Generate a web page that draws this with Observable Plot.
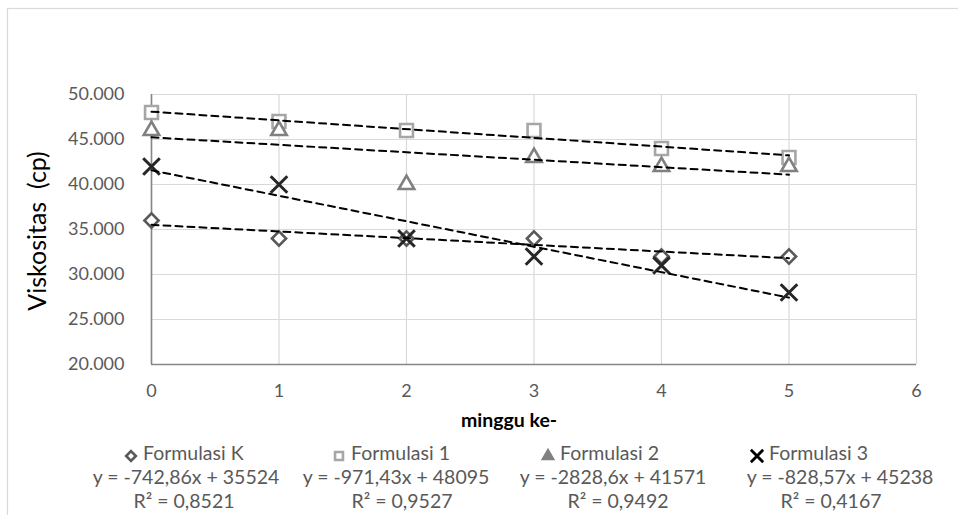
<!DOCTYPE html>
<html>
<head>
<meta charset="utf-8">
<script src="https://cdn.jsdelivr.net/npm/d3@7"></script>
<script src="https://cdn.jsdelivr.net/npm/@observablehq/plot@0.6"></script>
<style>
  html, body { margin: 0; padding: 0; background: #fff; }
</style>
</head>
<body>
<div id="chart"></div>
<script>
// ---- data ----
const weeks = [0, 1, 2, 3, 4, 5];
const seriesNames = ["Formulasi K", "Formulasi 1", "Formulasi 2", "Formulasi 3"];
const formK = [36000, 34000, 34000, 34000, 32000, 32000];
const form1 = [48000, 47000, 46000, 46000, 44000, 43000];
const form2 = [46000, 46000, 40000, 43000, 42000, 42000];
const form3 = [42000, 40000, 34000, 32000, 31000, 28000];
const equations = ["y = -742,86x + 35524", "y = -971,43x + 48095", "y = -2828,6x + 41571", "y = -828,57x + 45238"];
const rSquared = ["R² = 0,8521", "R² = 0,9527", "R² = 0,9492", "R² = 0,4167"];
const xTicks = [0, 1, 2, 3, 4, 5, 6];
const xTickLabels = ["0", "1", "2", "3", "4", "5", "6"];
const yTicks = [20000, 25000, 30000, 35000, 40000, 45000, 50000];
const yTickLabels = ["20.000", "25.000", "30.000", "35.000", "40.000", "45.000", "50.000"];
const xTitle = "minggu ke-";
const yTitle = "Viskositas  (cp)";

// ---- table ----
const values = [formK, form1, form2, form3];
const table = seriesNames.flatMap((name, i) => weeks.map((w, j) => ({series: name, week: w, value: values[i][j]})));

const styles = {
  "Formulasi K": {symbol: "diamond2", stroke: "#595959", r: 6.4, sw: 2.6},
  "Formulasi 1": {symbol: "square2", stroke: "#a6a6a6", r: 8.2, sw: 2.6},
  "Formulasi 2": {symbol: "triangle2", stroke: "#808080", r: 7.4, sw: 2.6},
  "Formulasi 3": {symbol: "times", stroke: "#262626", r: 7.6, sw: 3}
};

const font = "Lato, 'Open Sans', sans-serif";

const dotMarks = seriesNames.map(name => Plot.dot(table.filter(d => d.series === name), {
  x: "week", y: "value", symbol: () => styles[name].symbol,
  r: styles[name].r, stroke: styles[name].stroke, strokeWidth: styles[name].sw, fill: "white"
}));

const chart = Plot.plot({
  width: 958,
  height: 515,
  marginLeft: 151,
  marginRight: 42,
  marginTop: 94,
  marginBottom: 151,
  style: {fontFamily: font, fontSize: "18px", color: "#595959", background: "white", overflow: "visible"},
  symbol: {type: "identity"},
  x: {domain: [0, 6], label: null},
  y: {domain: [20000, 50000], label: null},
  marks: [
    Plot.gridX(xTicks, {stroke: "#d9d9d9", strokeOpacity: 1, strokeWidth: 1.2}),
    Plot.gridY(yTicks, {stroke: "#d9d9d9", strokeOpacity: 1, strokeWidth: 1.2}),
    Plot.ruleX([0], {stroke: "#868686", strokeWidth: 1.6}),
    Plot.ruleY([20000], {stroke: "#868686", strokeWidth: 1.6}),
    Plot.axisX(xTicks, {tickSize: 0, tickPadding: 20, label: null, fill: "#595959",
      tickFormat: d => xTickLabels[xTicks.indexOf(d)]}),
    Plot.axisY(yTicks, {tickSize: 0, tickPadding: 27, label: null, fill: "#595959",
      tickFormat: d => yTickLabels[yTicks.indexOf(d)]}),
    ...dotMarks,
    Plot.linearRegressionY(table, {x: "week", y: "value", z: "series", ci: 0,
      stroke: "black", strokeWidth: 2, strokeDasharray: "7,5"}),
    Plot.text([xTitle], {frameAnchor: "bottom", dy: 62, dx: -25, fontWeight: "bold", fill: "black", fontSize: 19.5})
  ]
});

document.getElementById("chart").appendChild(chart);

const svg = d3.select(chart);
// outer chart-area border
svg.insert("rect", ":first-child")
  .attr("x", 7.5).attr("y", 8.5).attr("width", 1000).attr("height", 600)
  .attr("fill", "none").attr("stroke", "#d9d9d9").attr("stroke-width", 1.2);
svg.insert("rect", ":first-child")
  .attr("x", 0).attr("y", 0).attr("width", 958).attr("height", 515).attr("fill", "white");

// y title
svg.append("text")
  .attr("transform", "translate(40,231) rotate(-90)")
  .attr("text-anchor", "middle").attr("dominant-baseline", "middle")
  .attr("font-family", font).attr("font-size", 25).attr("fill", "black")
  .style("white-space", "pre")
  .text(yTitle);

// legend
const symX = [131, 339, 548, 757];
const nameX = [143, 351, 560, 769];
const eqX = [186, 396, 613, 840];
const r2X = [184, 402, 618, 831];
const legendSymbols = {diamond2: d3.symbolDiamond2, square2: d3.symbolSquare2, triangle2: d3.symbolTriangle2, times: d3.symbolTimes};
const legendFill = {diamond2: "white", square2: "white", triangle2: "#808080", times: "none"};
const legendSize = {diamond2: 60, square2: 80, triangle2: 70, times: 100};
seriesNames.forEach((name, i) => {
  const st = styles[name];
  const isTimes = st.symbol === "times";
  svg.append("path")
    .attr("d", d3.symbol(legendSymbols[st.symbol], legendSize[st.symbol])())
    .attr("transform", `translate(${symX[i]},456)`)
    .attr("fill", legendFill[st.symbol])
    .attr("stroke", isTimes ? "black" : st.stroke)
    .attr("stroke-width", isTimes ? 2.8 : 2.6);
  svg.append("text").attr("x", nameX[i]).attr("y", 455).attr("text-anchor", "start")
    .attr("dominant-baseline", "middle").attr("font-family", font).attr("font-size", 19.5)
    .attr("fill", "#595959").text(name);
  svg.append("text").attr("x", eqX[i]).attr("y", 479).attr("text-anchor", "middle")
    .attr("dominant-baseline", "middle").attr("font-family", font).attr("font-size", 19.5)
    .attr("fill", "#595959").text(equations[i]);
  svg.append("text").attr("x", r2X[i]).attr("y", 503).attr("text-anchor", "middle")
    .attr("dominant-baseline", "middle").attr("font-family", font).attr("font-size", 19.5)
    .attr("fill", "#595959").text(rSquared[i]);
});
</script>
</body>
</html>
